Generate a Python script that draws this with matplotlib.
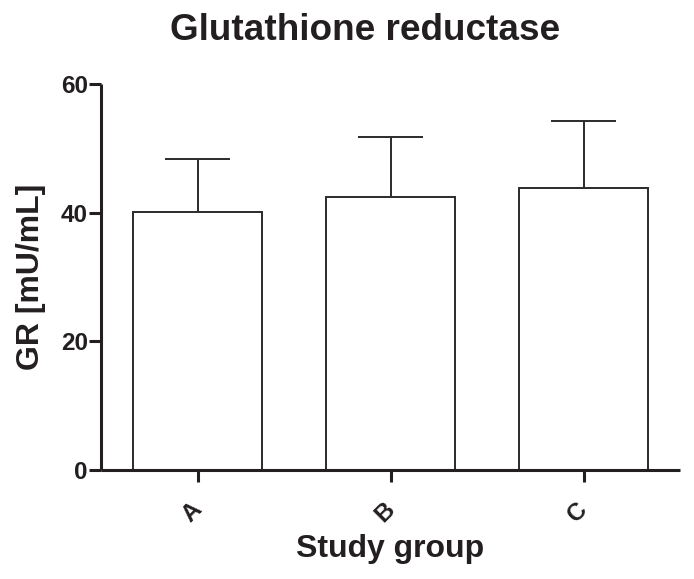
import matplotlib
matplotlib.use("Agg")
import matplotlib.pyplot as plt
import matplotlib.transforms as mtransforms
import numpy as np

plt.rcParams['font.family'] = ['Liberation Sans', 'DejaVu Sans']
plt.rcParams['font.weight'] = 'bold'

groups = ["A", "B", "C"]
means = [40.1, 42.4, 43.8]
sd = [8.3, 9.4, 10.4]
yticks = [0, 20, 40, 60]

title = "Glutathione reductase"
xlabel = "Study group"
ylabel = "GR [mU/mL]"

ink = "#231f20"
W, H = 694, 579
fig = plt.figure(figsize=(W / 100, H / 100), dpi=100)
ax = fig.add_axes([101 / W, 1 - 470 / H, (680 - 101) / W, (470 - 84) / H])

x = np.arange(len(groups))
bw = 0.665
ax.bar(x, means, width=bw, color="white", edgecolor="#2b2b2b", linewidth=1.4, zorder=2)
tops = np.array(means) + np.array(sd)
ax.vlines(x, means, tops, color="#2b2b2b", linewidth=1.4, zorder=1)
ax.hlines(tops, x - 0.17, x + 0.17, color="#2b2b2b", linewidth=1.4, zorder=1)

ax.set_xlim(-0.5, 2.5)
ax.set_ylim(0, 60)
ax.set_yticks(yticks)
ax.set_xticks(x)
ax.set_xticklabels(groups, rotation=45, ha="center", va="center", rotation_mode="anchor")

for s in ["top", "right"]:
    ax.spines[s].set_visible(False)
for s in ["left", "bottom"]:
    ax.spines[s].set_linewidth(2.2)
    ax.spines[s].set_color(ink)
    ax.spines[s].set_capstyle("butt")

ax.tick_params(axis="y", direction="out", length=8.5, width=2.2, color=ink, labelsize=17.5,
               labelcolor=ink, pad=1)
ax.tick_params(axis="x", direction="out", length=8.5, width=2.2, color=ink, labelsize=17.5,
               labelcolor=ink, pad=22)
for lab in ax.get_xticklabels() + ax.get_yticklabels():
    lab.set_fontweight("bold")
shift = mtransforms.ScaledTranslation(-0.06, 0, fig.dpi_scale_trans)
for lab in ax.get_xticklabels():
    lab.set_transform(lab.get_transform() + shift)

ax.set_xlabel(xlabel, fontsize=23, fontweight="bold", color=ink, va="center")
ax.xaxis.set_label_coords(0.5, (470 - 549) / 386)
ax.set_ylabel(ylabel, fontsize=23, fontweight="bold", color=ink, va="center")
ax.yaxis.set_label_coords((31 - 101) / 579, 0.5)

fig.text(365 / W, 1 - 30 / H, title, fontsize=26.6, fontweight="bold", color=ink,
         ha="center", va="center")

fig.savefig("out.png", dpi=100, facecolor="white")
